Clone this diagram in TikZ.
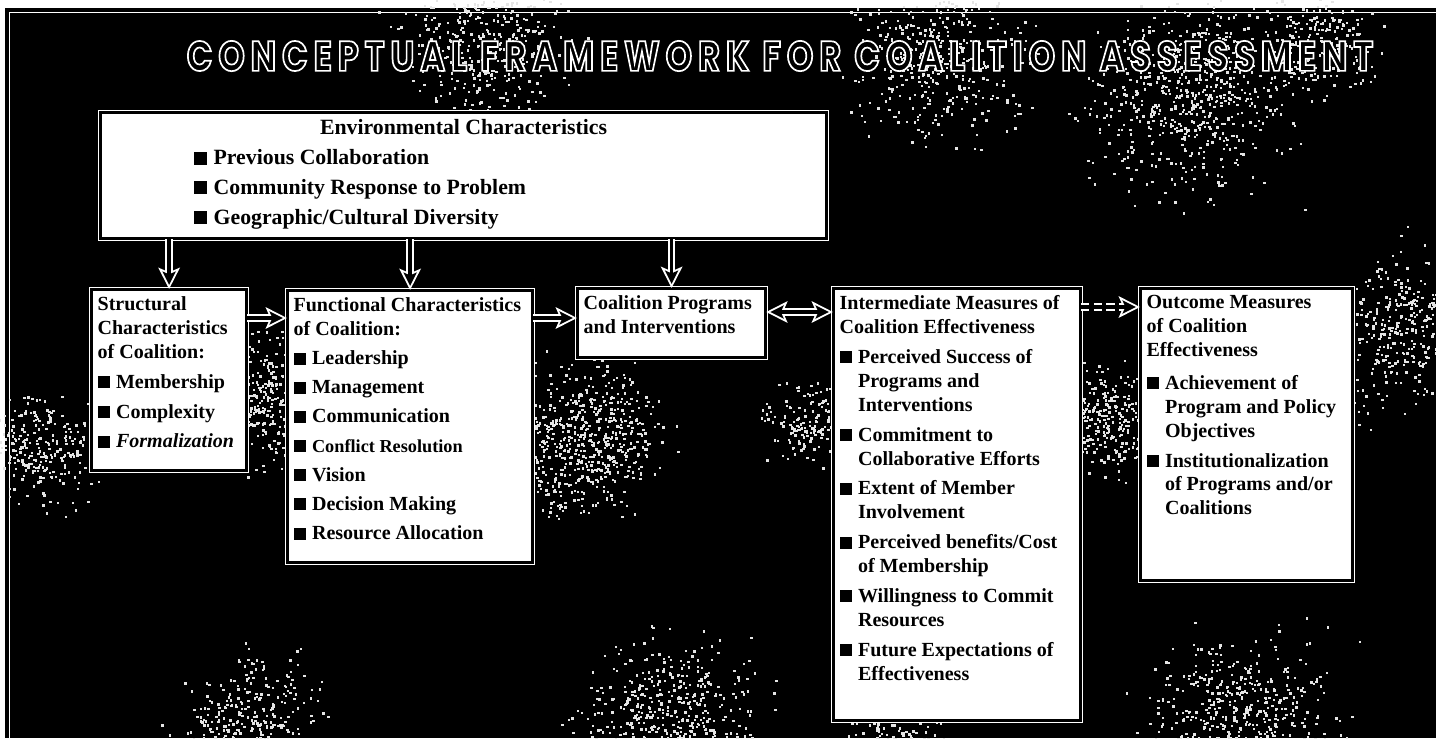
\documentclass[tikz,border=0pt]{standalone}
\usepackage{fontspec}
\setmainfont{Liberation Serif}
\newfontfamily\titlefont[FakeStretch=0.8,LetterSpace=14,FakeBold=4]{Poppins}
\usetikzlibrary{arrows.meta,calc}

% square bullet and hanging indent of the lists
\newcommand{\blt}{\rule{0.6em}{0.6em}\hspace{0.32em}}
\newcommand{\ind}{\hspace*{0.92em}}
\newcommand{\boxbody}[3]{\parbox[t][#2][t]{#1}{\raggedright #3}}
% outlined letters: black fill, white stroke
\newcommand{\hollowtext}[1]{\textcolor{black}{\special{pdf:literal direct 1 1 1 RG}#1}}

\begin{document}
\begin{tikzpicture}[x=0.02cm, y=-0.02cm,
    panel/.style = {draw=white, double=black, double distance=1.3pt, line width=0.7pt,
                    fill=white, anchor=north west, inner xsep=0.12cm, inner ysep=0.14cm,
                    font=\fontsize{11.4}{13.6}\selectfont\bfseries},
    bigtip/.tip = {Stealth[length=12pt,width=12pt,inset=2.5pt]},
    smalltip/.tip = {Stealth[length=7.6pt,width=7.4pt,inset=1.6pt]},
    flowout/.style = {white, line width=4.4pt},
    flowin/.style = {black, line width=2.1pt}]

    \useasboundingbox (0,0) rectangle (1436,738);
    % speckled black ground
    \fill[black] (5,8) rectangle (1436,738);
    \draw[white, line width=0.5pt] (9,738) -- (9,12) -- (1436,12);
    \pgfmathsetseed{17}
    \foreach \bx/\by/\br/\bn in {480/45/120/420, 940/55/120/420, 1190/95/140/650, 1320/40/80/200,
        265/400/90/420, 585/440/105/600, 40/450/80/260, 810/420/60/160, 1110/420/75/300,
        1410/330/110/420, 250/730/100/360, 670/725/120/600, 900/735/90/260, 1240/730/130/650}
      \foreach \k in {1,...,\bn} {
        \pgfmathsetmacro\dx{\br*(rand+rand+rand)/3}
        \pgfmathsetmacro\dy{\br*(rand+rand+rand)/3}
        \fill[white!80!gray] (\bx+\dx,\by+\dy) rectangle ++(2.4,2.4);
      }

    % title
    \node[font=\titlefont\bfseries\fontsize{24}{28}\selectfont] (title) at (780,56)
        {\hollowtext{CONCEPTUAL FRAMEWORK FOR COALITION ASSESSMENT}};

    % boxes
    \node[panel, font=\fontsize{12.4}{17}\selectfont\bfseries] (env) at (100,112) {\boxbody{14.28cm}{2.24cm}{%
        {\centering Environmental Characteristics\par}
        \leftskip=1.74cm
        \blt Previous Collaboration\\
        \blt Community Response to Problem\\
        \blt Geographic/Cultural Diversity}};
    \node[panel] (str) at (91,289) {\boxbody{2.86cm}{3.34cm}{%
        Structural\\
        Characteristics\\
        of Coalition:\\[3.4pt]
        \blt Membership\\[3.4pt]
        \blt Complexity\\[3.4pt]
        \blt \textit{Formalization}}};
    \node[panel] (fun) at (287,290) {\boxbody{4.66cm}{5.16cm}{%
        Functional Characteristics\\
        of Coalition:\\[3pt]
        \blt Leadership\\[3pt]
        \blt Management\\[3pt]
        \blt Communication\\[3pt]
        \blt {\fontsize{10.4}{13.6}\selectfont Conflict Resolution}\\[3pt]
        \blt Vision\\[3pt]
        \blt Decision Making\\[3pt]
        \blt Resource Allocation}};
    \node[panel] (coal) at (577,288) {\boxbody{3.52cm}{1.10cm}{%
        Coalition Programs\\
        and Interventions}};
    \node[panel] (inter) at (833,288) {\boxbody{4.70cm}{8.36cm}{%
        Intermediate Measures of\\
        Coalition Effectiveness\\[3.4pt]
        \blt Perceived Success of\\
        \ind Programs and\\
        \ind Interventions\\[3.4pt]
        \blt Commitment to\\
        \ind Collaborative Efforts\\[3.4pt]
        \blt Extent of Member\\
        \ind Involvement\\[3.4pt]
        \blt Perceived benefits/Cost\\
        \ind of Membership\\[3.4pt]
        \blt Willingness to Commit\\
        \ind Resources\\[3.4pt]
        \blt Future Expectations of\\
        \ind Effectiveness}};
    \node[panel] (out) at (1140,288) {\boxbody{4.00cm}{5.56cm}{%
        Outcome Measures\\
        of Coalition\\
        Effectiveness\\[5pt]
        \blt Achievement of\\
        \ind Program and Policy\\
        \ind Objectives\\[3.4pt]
        \blt Institutionalization\\
        \ind of Programs and/or\\
        \ind Coalitions}};

    % where the side arrows leave their boxes
    \coordinate (s1) at ($(str.north east)+(0,29)$);
    \coordinate (s2) at ($(fun.north east)+(0,28)$);
    \coordinate (s3) at ($(coal.north east)+(0,24)$);
    \coordinate (s4) at ($(inter.north east)+(0,19)$);

    % hollow arrows: white outline first, black core on top
    \foreach \tgt in {str, fun, coal} {
        \draw[flowout, -bigtip] (env.south -| \tgt.north) -- (\tgt.north);
        \draw[flowin, -smalltip, shorten >=2.3pt] (env.south -| \tgt.north) -- (\tgt.north);
    }

    \draw[flowout, -bigtip] (s1) -- (s1 -| fun.west);
    \draw[flowin, -smalltip, shorten >=2.3pt] (s1) -- (s1 -| fun.west);

    \draw[flowout, -bigtip] (s2) -- (s2 -| coal.west);
    \draw[flowin, -smalltip, shorten >=2.3pt] (s2) -- (s2 -| coal.west);

    \draw[flowout, bigtip-bigtip] (s3) -- (s3 -| inter.west);
    \draw[flowin, smalltip-smalltip, shorten >=2.3pt, shorten <=2.3pt] (s3) -- (s3 -| inter.west);

    \draw[flowout, dash pattern=on 4.6pt off 2.6pt, -bigtip] (s4) -- (s4 -| out.west);
    \draw[flowin, -smalltip, shorten >=2.3pt] (s4) -- (s4 -| out.west);

\end{tikzpicture}
\end{document}
